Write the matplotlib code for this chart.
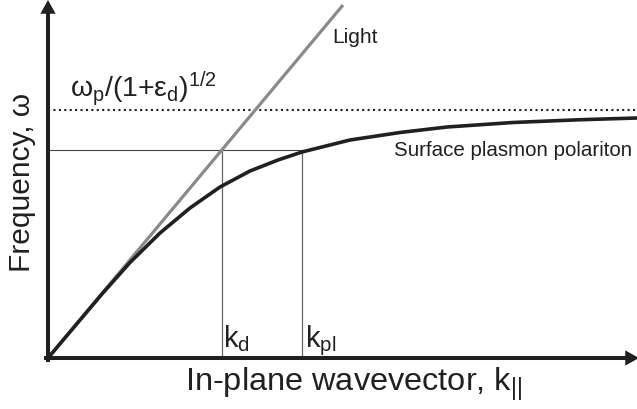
import matplotlib
matplotlib.use("Agg")
import matplotlib.pyplot as plt

plt.rcParams['font.family'] = ['Liberation Sans', 'DejaVu Sans']
plt.rcParams['mathtext.fontset'] = 'custom'
plt.rcParams['mathtext.rm'] = 'Liberation Sans'
plt.rcParams['mathtext.it'] = 'Liberation Sans'
plt.rcParams['mathtext.bf'] = 'Liberation Sans:bold'

# ---- data (schematic units) ----
k_spp = [0, 27, 54, 82, 112, 142, 172, 202, 230, 254, 302, 352, 399, 465, 530, 589]
w_spp = [0, 32, 64, 95.5, 125, 150, 171, 187, 198, 206, 218, 225.5, 231, 235.5, 238.2, 240]
k_light = [0, 295]
w_light = [0, 353]
k_d = 174
k_pl = 254
w_res = 208
w_asym = 248
k_max = 589
w_max = 358

BLACK = '#231f20'
GRAY = '#8a8a8a'

W, H = 637, 409
fig = plt.figure(figsize=(W / 100, H / 100), dpi=100)
ox, oy = 48, 358  # origin in pixels (from top)
ax = fig.add_axes([ox / W, (H - oy) / H, (W - ox) / W, oy / H])
ax.set_xlim(0, k_max)
ax.set_ylim(0, w_max)
ax.axis('off')

# asymptote (dotted)
ax.plot([0, k_max], [w_asym, w_asym], color=BLACK, lw=1.5,
        linestyle=(0, (1, 1.6)), clip_on=False)
# guide lines
ax.plot([0, k_pl], [w_res, w_res], color='#444444', lw=0.8, clip_on=False)
ax.plot([k_d, k_d], [0, w_res], color='#666666', lw=0.9, clip_on=False)
ax.plot([k_pl, k_pl], [0, w_res], color='#666666', lw=0.9, clip_on=False)

# light line
ax.plot(k_light, w_light, color=GRAY, lw=2.3, solid_capstyle='butt', clip_on=False)
# SPP dispersion
ax.plot(k_spp, w_spp, color=BLACK, lw=2.6, solid_joinstyle='round', clip_on=False)

# axes with arrows
ax.plot([0, 0], [-2, w_max - 10], color=BLACK, lw=2.9, solid_capstyle='projecting', clip_on=False)
ax.plot([-2, k_max - 8], [0, 0], color=BLACK, lw=2.9, solid_capstyle='projecting', clip_on=False)
ax.annotate('', xy=(0, w_max), xytext=(0, w_max - 14),
            arrowprops=dict(arrowstyle='-|>,head_length=0.9,head_width=0.5',
                            mutation_scale=11, lw=0, color=BLACK,
                            shrinkA=0, shrinkB=0), annotation_clip=False)
ax.annotate('', xy=(k_max + 2, 0), xytext=(k_max - 14, 0),
            arrowprops=dict(arrowstyle='-|>,head_length=0.9,head_width=0.5',
                            mutation_scale=11, lw=0, color=BLACK,
                            shrinkA=0, shrinkB=0), annotation_clip=False)

# texts
ax.text(284, 315, 'Light', fontsize=15, color=BLACK, ha='left', va='baseline')
ax.text(346, 202, 'Surface plasmon polariton', fontsize=14.8, color=BLACK,
        ha='left', va='baseline')
ax.text(22, 261, r'$\omega_\mathrm{p}/(1$+$\varepsilon_\mathrm{d})^{1/2}$', fontsize=20.5,
        color=BLACK, ha='left', va='baseline')
ax.text(175, 11, r'k$_\mathrm{d}$', fontsize=21, color=BLACK, ha='left', va='baseline')
ax.text(257, 11, r'k$_\mathrm{pl}$', fontsize=21, color=BLACK, ha='left', va='baseline')

fig.text(22 / W, (H - 182) / H, 'Frequency, ω', fontsize=21.5, rotation=90,
         color=BLACK, ha='center', va='center')
fig.text(354 / W, (H - 384) / H, r'In-plane wavevector, k$_{||}$', fontsize=23.4,
         color=BLACK, ha='center', va='center')

fig.savefig('out.png', dpi=100)
